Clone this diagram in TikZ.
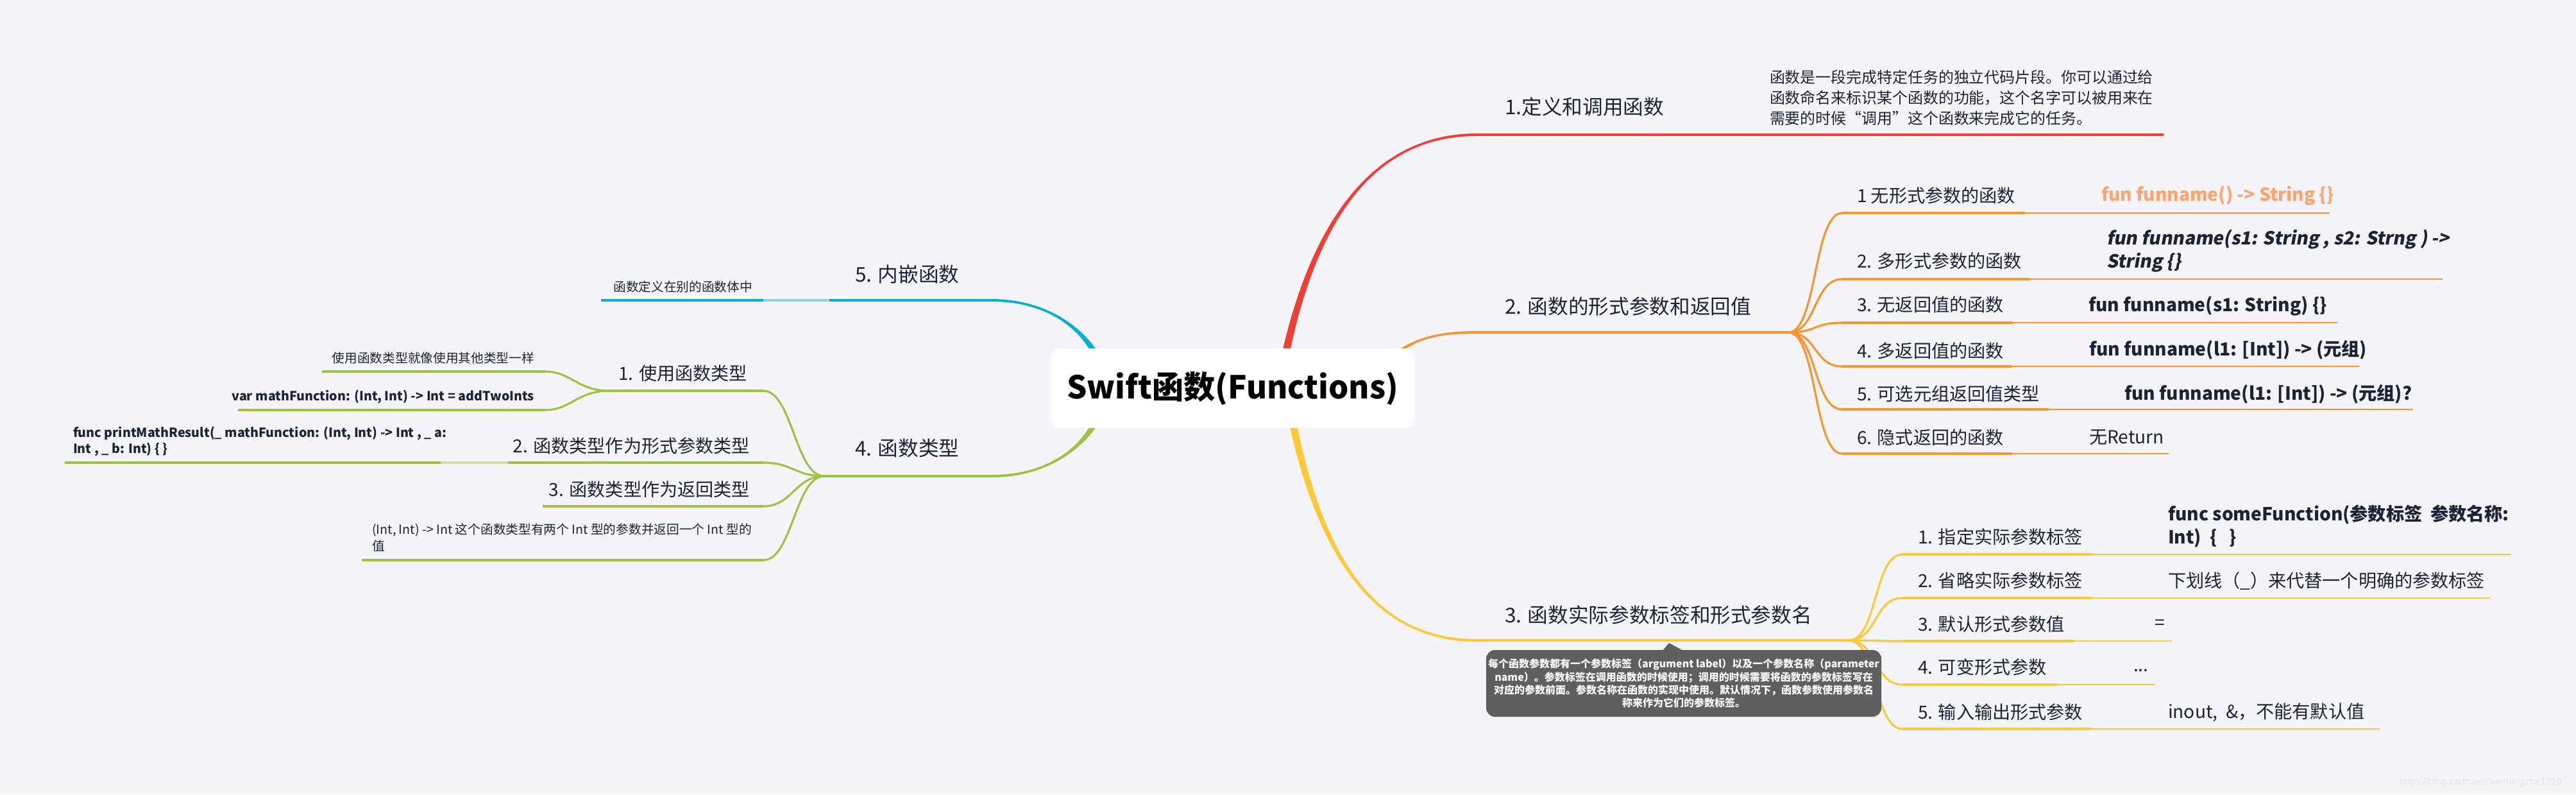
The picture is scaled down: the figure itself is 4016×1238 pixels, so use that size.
\documentclass[tikz,border=0pt]{standalone}
\usepackage{fontspec}
\setmainfont{Noto Sans CJK SC}
\newfontfamily\slfont{Noto Sans CJK SC}[FakeSlant=0.18]
\newfontfamily\wmfont{Liberation Sans}
\usetikzlibrary{calc}
\definecolor{bg}{HTML}{F5F5F9}
\definecolor{ink}{HTML}{1B2437}
\definecolor{cred}{HTML}{EE4036}
\definecolor{corange}{HTML}{F7962F}
\definecolor{cyellow}{HTML}{FDC93A}
\definecolor{cgreen}{HTML}{A0C244}
\definecolor{cblue}{HTML}{08ADD3}
\definecolor{lorange}{HTML}{FFA46E}
\definecolor{callout}{HTML}{5F5F5F}
\definecolor{wmc}{HTML}{E3E3E9}
\newcommand\branch[7]{%
 \fill[#1] ($(#2)+({(#6)*6},0)$) .. controls ($(#3)+({(#6)*4},0)$) and ($(#4)+(0,{(#7)*2})$) .. ($(#5)+(0,{(#7)*2})$)
 -- ($(#5)+(0,{-(#7)*2})$) .. controls ($(#4)+(0,{-(#7)*2})$) and ($(#3)+({-(#6)*4},0)$) .. ($(#2)+({-(#6)*6},0)$) -- cycle;}
\newcommand\kid[7]{%
 \coordinate (#3s) at (#5,#4); \coordinate (#3m) at (#6,#4); \coordinate (#3e) at (#7,#4);
 \draw[thk,#1] (#2) .. controls +(45,0) and +(-45,0) .. (#3s);
 \draw[thk,#1] (#3s) -- (#3m);
 \draw[thn,#1] (#3m) -- (#3e);}
\tikzset{
 txt/.style={inner sep=0pt, outer sep=0pt, text=ink},
 topic/.style={txt, font=\fontsize{9}{11}\selectfont},
 child/.style={txt, font=\fontsize{8}{10}\selectfont},
 gcb/.style={txt, font=\fontsize{8}{10.4}\selectfont\bfseries, align=left},
 gcr/.style={txt, font=\fontsize{8}{10.4}\selectfont, align=left},
 para/.style={txt, font=\fontsize{6.8}{9.1}\selectfont, align=left},
 small/.style={txt, font=\fontsize{5.6}{7.4}\selectfont, align=left},
 smallb/.style={small, font=\fontsize{5.6}{7.2}\selectfont\bfseries},
 ln/.style={line width=1.14pt},
 thk/.style={line width=0.9pt},
 thn/.style={line width=0.5pt},
}
\begin{document}
\begin{tikzpicture}[x=0.01cm,y=-0.01cm]
\fill[bg] (0,0) rectangle (4016,1238);
\useasboundingbox (0,0) rectangle (4016,1238);

% ---------- main branches ----------
\coordinate (rS) at (2002,562); \coordinate (rC1) at (2050,330); \coordinate (rC2) at (2150,210); \coordinate (rE) at (2302,210);
\branch{cred}{rS}{rC1}{rC2}{rE}{-1}{-1}
\coordinate (oS) at (2130,600); \coordinate (oC1) at (2180,530); \coordinate (oC2) at (2230,518); \coordinate (oE) at (2302,518);
\branch{corange}{oS}{oC1}{oC2}{oE}{-1}{-1}
\coordinate (yS) at (2013,648); \coordinate (yC1) at (2060,880); \coordinate (yC2) at (2150,998); \coordinate (yE) at (2302,998);
\branch{cyellow}{yS}{yC1}{yC2}{yE}{-1}{1}
\coordinate (bS) at (1715,565); \coordinate (bC1) at (1690,510); \coordinate (bC2) at (1630,468); \coordinate (bE) at (1546,468);
\branch{cblue}{bS}{bC1}{bC2}{bE}{1}{-1}
\coordinate (gS) at (1715,645); \coordinate (gC1) at (1690,700); \coordinate (gC2) at (1630,742); \coordinate (gE) at (1546,742);
\branch{cgreen}{gS}{gC1}{gC2}{gE}{1}{1}

\node[fill=white, rounded corners=0.16cm, minimum width=5.67cm, minimum height=1.24cm, inner sep=0pt,
      font=\fontsize{14}{16}\selectfont\bfseries, text=black] (root) at (1921.5,605) {Swift函数(Functions)};

% ---------- 1. red ----------
\coordinate (rX) at (3373,210);
\draw[ln, cred] (rE) -- (rX);
\node[topic, anchor=west] (t1) at (2346,166) {1.定义和调用函数};
\node[para, anchor=west] (t1a) at (2759,152) {函数是一段完成特定任务的独立代码片段。你可以通过给\\函数命名来标识某个函数的功能，这个名字可以被用来在\\需要的时候“调用”这个函数来完成它的任务。};

% ---------- 2. orange ----------
\coordinate (oJ) at (2788,518);
\draw[ln, corange] (oE) -- (oJ);
\node[topic, anchor=west] (t2) at (2346,477) {2. 函数的形式参数和返回值};
\kid{corange}{oJ}{o1}{332}{2872}{3157}{3632}
\kid{corange}{oJ}{o2}{435}{2872}{3164}{3808}
\kid{corange}{oJ}{o3}{503}{2872}{3138}{3644}
\kid{corange}{oJ}{o4}{571}{2872}{3137}{3678}
\kid{corange}{oJ}{o5}{638}{2872}{3194}{3762}
\kid{corange}{oJ}{o6}{707}{2872}{3137}{3381}
\node[child, anchor=west] (o1t) at (2895,305) {1 无形式参数的函数};
\node[child, anchor=west] (o2t) at (2895,407) {2. 多形式参数的函数};
\node[child, anchor=west] (o3t) at (2895,475) {3. 无返回值的函数};
\node[child, anchor=west] (o4t) at (2895,547) {4. 多返回值的函数};
\node[child, anchor=west] (o5t) at (2895,614) {5. 可选元组返回值类型};
\node[child, anchor=west] (o6t) at (2895,682) {6. 隐式返回的函数};
\node[gcb, text=lorange, anchor=west] (o1g) at (3276,305) {fun funname() -> String \{\}};
\node[gcb, font=\fontsize{8}{10.4}\selectfont\slfont\bfseries, anchor=west] (o2g) at (3284,391) {fun funname(s1: String , s2: Strng ) ->\\String \{\}};
\node[gcb, anchor=west] (o3g) at (3256,477) {fun funname(s1: String) \{\}};
\node[gcb, anchor=west] (o4g) at (3257,545) {fun funname(l1: [Int]) -> (元组)};
\node[gcb, anchor=west] (o5g) at (3312,614) {fun funname(l1: [Int]) -> (元组)?};
\node[gcr, anchor=west] (o6g) at (3257,682) {无Return};

% ---------- 3. yellow ----------
\coordinate (yJ) at (2882,998);
\draw[ln, cyellow] (yE) -- (yJ);
\node[topic, anchor=west] (t3) at (2346,958) {3. 函数实际参数标签和形式参数名};
\kid{cyellow}{yJ}{y1}{864}{2966}{3261}{3915}
\kid{cyellow}{yJ}{y2}{932}{2966}{3261}{3882}
\kid{cyellow}{yJ}{y3}{999}{2966}{3234}{3386}
\kid{cyellow}{yJ}{y4}{1067}{2966}{3207}{3359}
\kid{cyellow}{yJ}{y5}{1136}{2966}{3261}{3711}
\node[child, anchor=west] (y1t) at (2990,837) {1. 指定实际参数标签};
\node[child, anchor=west] (y2t) at (2990,905) {2. 省略实际参数标签};
\node[child, anchor=west] (y3t) at (2990,973) {3. 默认形式参数值};
\node[child, anchor=west] (y4t) at (2990,1040) {4. 可变形式参数};
\node[child, anchor=west] (y5t) at (2990,1110) {5. 输入输出形式参数};
\node[gcb, font=\fontsize{8}{10.2}\selectfont\bfseries, anchor=west] (y1g) at (3380,820) {func someFunction(参数标签\ \ 参数名称:\\Int)\ \ \{\ \ \ \}};
\node[gcr, anchor=west] (y2g) at (3380,905) {下划线（\_）来代替一个明确的参数标签};
\node[gcr, anchor=west] (y3g) at (3359,973) {=};
\node[gcr, anchor=west] (y4g) at (3326,1045) {...};
\node[gcr, anchor=west] (y5g) at (3380,1110) {inout,\ \ \&，不能有默认值};

% callout
\node[fill=callout, rounded corners=0.14cm, minimum width=6.16cm, minimum height=1.04cm, inner sep=0pt,
      text=white, align=center, font=\fontsize{4.55}{5.8}\selectfont\bfseries] (note) at (2625,1065)
 {每个函数参数都有一个参数标签（argument label）以及一个参数名称（parameter\\name）。参数标签在调用函数的时候使用；调用的时候需要将函数的参数标签写在\\对应的参数前面。参数名称在函数的实现中使用。默认情况下，函数参数使用参数名\\称来作为它们的参数标签。};
\coordinate (pA) at (2592,1014); \coordinate (pB) at (2602,1002); \coordinate (pC) at (2624,1014);
\fill[callout] (pA) -- (pB) -- (pC) -- cycle;

% ---------- 5. blue ----------
\coordinate (bL) at (1293,468); \coordinate (b1r) at (1190,468); \coordinate (b1l) at (937,468);
\draw[ln, cblue] (bE) -- (bL);
\draw[thk, cblue!45!bg] (bL) -- (b1r);
\draw[thk, cblue] (b1r) -- (b1l);
\node[topic, anchor=west] (t5) at (1333,427) {5. 内嵌函数};
\node[small, anchor=east] (b1t) at (1173,447) {函数定义在别的函数体中};

% ---------- 4. green ----------
\coordinate (gJ) at (1285,742);
\draw[ln, cgreen] (gE) -- (gJ);
\node[topic, anchor=west] (t4) at (1333,698) {4. 函数类型};
\coordinate (g1r) at (1190,609); \coordinate (g1l) at (950,609);
\coordinate (g2r) at (1190,721); \coordinate (g2l) at (792,721);
\coordinate (g3r) at (1190,789); \coordinate (g3l) at (846,789);
\coordinate (g4r) at (1190,873); \coordinate (g4l) at (564,873);
\foreach \k in {1,2,3,4}{
  \draw[thk, cgreen] (gJ) .. controls +(-45,0) and +(45,0) .. (g\k r);
  \draw[thk, cgreen] (g\k r) -- (g\k l);
}
\node[child, anchor=east] (g1t) at (1165,582) {1. 使用函数类型};
\node[child, anchor=east] (g2t) at (1169,695) {2. 函数类型作为形式参数类型};
\node[child, anchor=east] (g3t) at (1169,763) {3. 函数类型作为返回类型};
\node[small, anchor=west] (g4t) at (580,838) {(Int, Int) -> Int 这个函数类型有两个 Int 型的参数并返回一个 Int 型的\\值};
% grandchildren of 1.
\coordinate (g1ar) at (850,579); \coordinate (g1al) at (502,579);
\coordinate (g1br) at (850,639); \coordinate (g1bl) at (371,639);
\draw[thk, cgreen] (g1l) .. controls +(-50,0) and +(40,0) .. (g1ar);
\draw[thk, cgreen] (g1l) .. controls +(-50,0) and +(40,0) .. (g1br);
\draw[thk, cgreen] (g1ar) -- (g1al);
\draw[thk, cgreen] (g1br) -- (g1bl);
\node[small, anchor=east] (g1at) at (833,558) {使用函数类型就像使用其他类型一样};
\node[smallb, anchor=east] (g1bt) at (833,618) {var mathFunction: (Int, Int) -> Int = addTwoInts};
% grandchild of 2.
\coordinate (g2ar) at (687,721); \coordinate (g2al) at (101,721);
\draw[thk, cgreen!45!bg] (g2l) -- (g2ar);
\draw[thk, cgreen] (g2ar) -- (g2al);
\node[smallb, anchor=west] (g2at) at (114,688) {func printMathResult(\_ mathFunction: (Int, Int) -> Int , \_ a:\\Int , \_ b: Int) \{ \}};

% watermark
\node[inner sep=0pt, anchor=west, text=wmc, font=\wmfont\fontsize{4.3}{5}\selectfont] (wm) at (3740,1220) {https://blog.csdn.net/weimingzhe1219};
\end{tikzpicture}
\end{document}
